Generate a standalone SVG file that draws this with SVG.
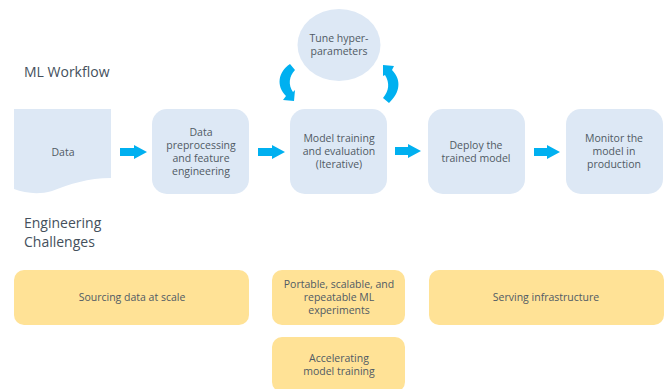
<svg xmlns="http://www.w3.org/2000/svg" width="668" height="389" viewBox="0 0 668 389">
<style>
text{font-family:"Open Sans","Noto Sans",sans-serif;font-size:10.5px;fill:#505a64;text-anchor:middle}
.h{font-size:14px;text-anchor:start;fill:#44505c}
.b{fill:#dde8f5}
.y{fill:#ffe296}
.a{fill:#00b0f0}
</style>
<rect width="668" height="389" fill="#fff"/>
<text class="h" x="24" y="77">ML Workflow</text>
<g id="label-challenges"><text class="h" x="24" y="228">Engineering</text><text class="h" x="24" y="247">Challenges</text></g>
<g id="data"><path class="b" d="M14 109H111V178C88 178 70 184 52 191C38 195 25 193 14 189Z"/><text x="63" y="156">Data</text></g>
<g id="prep"><rect class="b" x="152" y="109" width="97" height="85" rx="15"/><text x="201" y="136">Data</text><text x="201" y="149">preprocessing</text><text x="201" y="161.500">and feature</text><text x="201" y="174.500">engineering</text></g>
<g id="train"><rect class="b" x="290" y="109" width="97" height="85" rx="15"/><text x="339" y="142">Model training</text><text x="339" y="155">and evaluation</text><text x="339" y="168">(Iterative)</text></g>
<g id="deploy"><rect class="b" x="428" y="109" width="97" height="85" rx="15"/><text x="476" y="149">Deploy the</text><text x="476" y="162">trained model</text></g>
<g id="monitor"><rect class="b" x="566" y="109" width="97" height="85" rx="15"/><text x="614" y="142">Monitor the</text><text x="614" y="155">model in</text><text x="614" y="168">production</text></g>
<g id="tune"><ellipse class="b" cx="339" cy="45" rx="41.500" ry="36"/><text x="339" y="42">Tune hyper-</text><text x="339" y="55">parameters</text></g>
<g id="connectors">
<path class="a" d="M120 148H134V145L147 152L134 159V156H120Z"/>
<path class="a" d="M258 148H272V145L285 152L272 159V156H258Z"/>
<path class="a" d="M395 147H408V144L421 151L408 158V155H395Z"/>
<path class="a" d="M534 148H547V145L560 152L547 159V156H534Z"/>
<path class="a" d="M290 64L295 70C289 76 288 85 293 92L295 90L294 101L283 100L286 96C276 86 278 72 290 64Z"/>
<path class="a" d="M383 65L394 66L392 70C402 80 400 93 389 103L383 98C389 91 390 83 385 75L383 76Z"/>
</g>
<g id="sourcing"><rect class="y" x="14" y="270" width="235" height="55" rx="10"/><text x="132" y="301">Sourcing data at scale</text></g>
<g id="portable"><rect class="y" x="272" y="270" width="133" height="55" rx="10"/><text x="339" y="288">Portable, scalable, and</text><text x="339" y="301">repeatable ML</text><text x="339" y="314">experiments</text></g>
<g id="serving"><rect class="y" x="429" y="270" width="235" height="55" rx="10"/><text x="546" y="301">Serving infrastructure</text></g>
<g id="accelerating"><rect class="y" x="272" y="337" width="133" height="55" rx="10"/><text x="339" y="362">Accelerating</text><text x="339" y="375">model training</text></g>
</svg>
